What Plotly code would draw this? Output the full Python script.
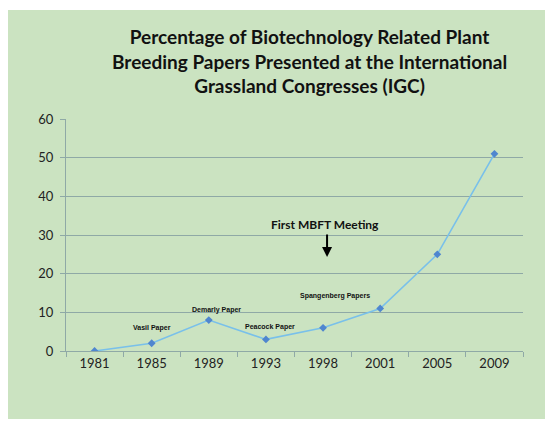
import plotly.graph_objects as go

years = ["1981", "1985", "1989", "1993", "1998", "2001", "2005", "2009"]
percent = [0, 2, 8, 3, 6, 11, 25, 51]

note_labels = ["Vasil Paper", "Demarly Paper", "Peacock Paper", "Spangenberg Papers"]
note_years = ["1985", "1989", "1993", "1998"]
note_y = [5.9, 10.6, 6.2, 14.2]
note_xshift = [0, 8, 4, 12]

title_text = ("Percentage of Biotechnology Related Plant<br>"
              "Breeding Papers Presented at the International<br>"
              "Grassland Congresses (IGC)")

# page offset of 8px (body margin) is compensated for in these numbers
L, T, PW, PH = 58, 111, 457, 232
W, H = 545, 413

fig = go.Figure()
fig.add_trace(go.Scatter(
    x=years, y=percent, mode="lines+markers",
    line=dict(color="#79c0ea", width=1.6),
    marker=dict(symbol="diamond", size=6, color="#4f86cf"),
    showlegend=False, hoverinfo="skip"))

annots = []
for t, xv, yv, xs in zip(note_labels, note_years, note_y, note_xshift):
    annots.append(dict(x=years.index(xv), y=yv, xref="x", yref="y", text="<b>" + t + "</b>",
                       showarrow=False, xshift=xs,
                       font=dict(family="Liberation Sans", size=7, color="#111")))
annots.append(dict(x=years.index("1998"), y=32.8, xref="x", yref="y",
                   text="<b>First MBFT Meeting</b>", showarrow=False, xshift=2,
                   font=dict(family="Lato", size=12, color="#111")))
annots.append(dict(x=years.index("1998"), y=24.3, xref="x", yref="y", text="",
                   showarrow=True, ax=0, ay=-24, arrowhead=2, arrowsize=1,
                   arrowwidth=2, arrowcolor="#000", xshift=4))
annots.append(dict(x=(301 - L) / PW, y=(T + PH - 53) / PH, xref="paper", yref="paper",
                   xanchor="center", yanchor="middle",
                   text="<b>" + title_text + "</b>", showarrow=False,
                   font=dict(family="Lato", size=19, color="#111"), align="center"))
fig.update_layout(annotations=annots)

fig.add_shape(type="rect", xref="paper", yref="paper", layer="below",
              x0=(0 - L) / PW, x1=(W + 5 - L) / PW,
              y0=(T + PH - 411) / PH, y1=(T + PH - 2) / PH,
              fillcolor="#cbe3c1", line=dict(width=0))

fig.update_layout(
    width=W, height=H,
    margin=dict(l=L, r=W - L - PW, t=T, b=H - T - PH),
    paper_bgcolor="white", plot_bgcolor="rgba(0,0,0,0)",
    xaxis=dict(type="category", showgrid=False, showline=True, linecolor="#8fa9a6",
               linewidth=1, ticks="outside", tickson="boundaries", ticklen=5,
               tickcolor="#8fa9a6", range=[-0.5, 7.5],
               tickfont=dict(family="Lato", size=13, color="#222")),
    yaxis=dict(range=[0, 60], dtick=10, showgrid=True, gridcolor="#8fa9a6",
               gridwidth=1, showline=True, linecolor="#8fa9a6", ticks="outside",
               ticklen=5, tickcolor="#8fa9a6", zeroline=False,
               ticklabelstandoff=4,
               tickfont=dict(family="Lato", size=13, color="#222")),
)

fig.write_html("out.html")
